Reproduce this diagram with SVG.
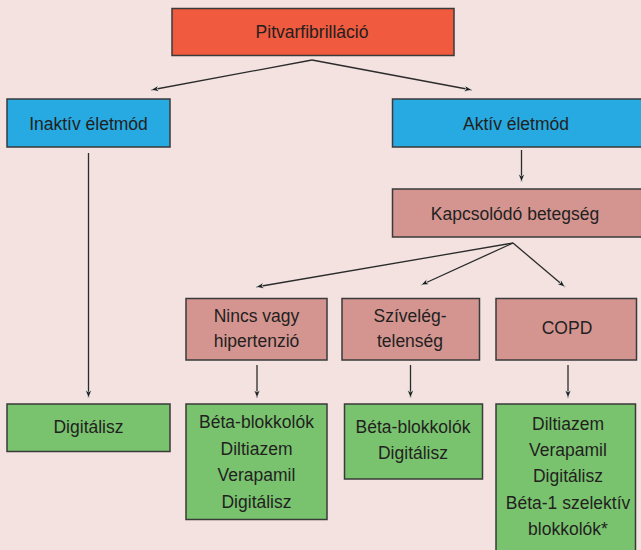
<svg xmlns="http://www.w3.org/2000/svg" width="641" height="550" viewBox="0 0 641 550">
  <style>
    .box { stroke: #3a3a3a; stroke-width: 1.5; }
    .red { fill: #F05A3E; }
    .blue { fill: #27A9E1; }
    .rose { fill: #D49591; }
    .green { fill: #79C36F; }
    .lbl { font-family: "Liberation Sans", Arial, sans-serif; font-size: 17.5px; fill: #231F20; text-anchor: middle; }
    .link { stroke: #2b2b2b; stroke-width: 1.3; fill: none; marker-end: url(#arrow); }
  </style>
  <defs>
    <marker id="arrow" markerUnits="userSpaceOnUse" markerWidth="12" markerHeight="12" refX="8" refY="4" orient="auto">
      <path d="M0,0.8 L8,4 L0,7.2 L2,4 Z" fill="#1e1e1e" stroke="#ffffff" stroke-width="0.6"/>
    </marker>
  </defs>

  <rect x="0" y="0" width="641" height="550" fill="#F3E2E0"/>

  <g id="connectors">
    <line class="link" x1="312" y1="60" x2="151" y2="90"/>
    <line class="link" x1="312" y1="60" x2="472" y2="90"/>
    <line class="link" x1="88.5" y1="153" x2="88.5" y2="398"/>
    <line class="link" x1="521.5" y1="150" x2="521.5" y2="182"/>
    <line class="link" x1="513" y1="243" x2="256" y2="287"/>
    <line class="link" x1="513" y1="243" x2="421" y2="285"/>
    <line class="link" x1="513" y1="243" x2="565" y2="287"/>
    <line class="link" x1="257" y1="365" x2="257" y2="398"/>
    <line class="link" x1="410.5" y1="365" x2="410.5" y2="398"/>
    <line class="link" x1="568" y1="365" x2="568" y2="398"/>
  </g>

  <g id="pitvarfibrillacio">
    <rect class="box red" x="172" y="8.5" width="282" height="47"/>
    <text class="lbl" x="312" y="38">Pitvarfibrilláció</text>
  </g>

  <g id="inaktiv">
    <rect class="box blue" x="7" y="99" width="163" height="48"/>
    <text class="lbl" x="88.5" y="130">Inaktív életmód</text>
  </g>

  <g id="aktiv">
    <rect class="box blue" x="392.5" y="99" width="252" height="48"/>
    <text class="lbl" x="516" y="130">Aktív életmód</text>
  </g>

  <g id="kapcsolodo">
    <rect class="box rose" x="392.5" y="189" width="252" height="48"/>
    <text class="lbl" x="515" y="220">Kapcsolódó betegség</text>
  </g>

  <g id="nincs">
    <rect class="box rose" x="186" y="298.5" width="141" height="61.5"/>
    <text class="lbl" x="256.5" y="322">Nincs vagy</text>
    <text class="lbl" x="256.5" y="347">hipertenzió</text>
  </g>

  <g id="szivelegtelenseg">
    <rect class="box rose" x="342" y="298.5" width="137.5" height="61.5"/>
    <text class="lbl" x="410" y="322">Szívelég-</text>
    <text class="lbl" x="410" y="347">telenség</text>
  </g>

  <g id="copd">
    <rect class="box rose" x="496" y="298.5" width="140.5" height="61.5"/>
    <text class="lbl" x="567" y="334">COPD</text>
  </g>

  <g id="ther-inaktiv">
    <rect class="box green" x="7" y="404" width="163" height="47.5"/>
    <text class="lbl" x="88.5" y="433">Digitálisz</text>
  </g>

  <g id="ther-nincs">
    <rect class="box green" x="186" y="404" width="141" height="115.5"/>
    <text class="lbl" x="256.5" y="428">Béta-blokkolók</text>
    <text class="lbl" x="256.5" y="455">Diltiazem</text>
    <text class="lbl" x="256.5" y="481">Verapamil</text>
    <text class="lbl" x="256.5" y="507.5">Digitálisz</text>
  </g>

  <g id="ther-szivelegtelenseg">
    <rect class="box green" x="344.5" y="404" width="138" height="75"/>
    <text class="lbl" x="413" y="432.5">Béta-blokkolók</text>
    <text class="lbl" x="413" y="458.5">Digitálisz</text>
  </g>

  <g id="ther-copd">
    <rect class="box green" x="496" y="404" width="139.5" height="150"/>
    <text class="lbl" x="568" y="430">Diltiazem</text>
    <text class="lbl" x="568" y="456">Verapamil</text>
    <text class="lbl" x="568" y="482">Digitálisz</text>
    <text class="lbl" x="568" y="508.5">Béta-1 szelektív</text>
    <text class="lbl" x="568" y="535">blokkolók*</text>
  </g>
</svg>
